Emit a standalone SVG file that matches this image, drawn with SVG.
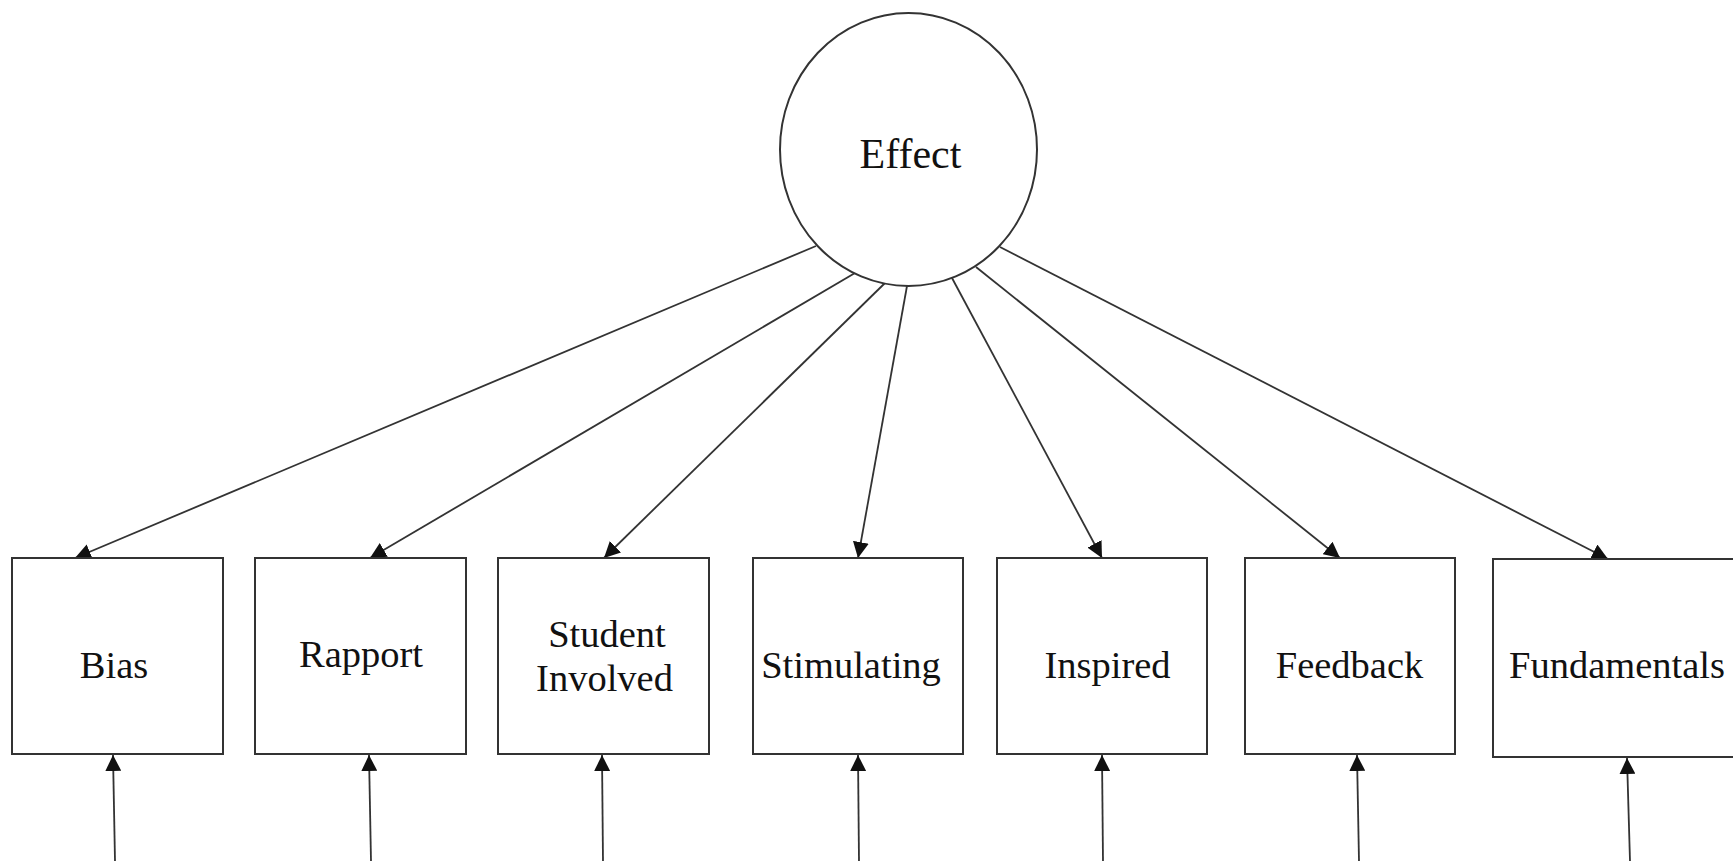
<svg xmlns="http://www.w3.org/2000/svg" width="1733" height="861" viewBox="0 0 1733 861">
<style>
.box{fill:#fff;stroke:#333;stroke-width:2}
.lbl{font-family:"Liberation Serif","Times New Roman",serif;font-size:38.5px;fill:#111;text-anchor:middle}
.conn{stroke:#333;stroke-width:1.8;fill:none;marker-end:url(#ah)}
</style>
<defs>
<marker id="ah" markerUnits="userSpaceOnUse" markerWidth="16" markerHeight="16" viewBox="0 0 16 16" refX="16" refY="8" orient="auto">
<path d="M0,0 L16,8 L0,16 Z" fill="#111"/>
</marker>
</defs>
<rect width="1733" height="861" fill="#fff"/>
<g id="connectors">
<line class="conn" x1="816" y1="246" x2="75" y2="558"/>
<line class="conn" x1="855" y1="273" x2="370" y2="558"/>
<line class="conn" x1="885" y1="283" x2="604" y2="558"/>
<line class="conn" x1="907" y1="286" x2="858" y2="558"/>
<line class="conn" x1="952" y1="278" x2="1102" y2="558"/>
<line class="conn" x1="976" y1="267" x2="1340" y2="558"/>
<line class="conn" x1="1000" y1="247" x2="1608" y2="559"/>
<line class="conn" x1="115" y1="861" x2="113" y2="755"/>
<line class="conn" x1="371" y1="861" x2="369" y2="755"/>
<line class="conn" x1="603" y1="861" x2="602" y2="755"/>
<line class="conn" x1="859" y1="861" x2="858" y2="755"/>
<line class="conn" x1="1103" y1="861" x2="1102" y2="755"/>
<line class="conn" x1="1359" y1="861" x2="1357" y2="755"/>
<line class="conn" x1="1630" y1="861" x2="1627" y2="758"/>
</g>
<g id="effect">
<ellipse cx="908.5" cy="149.5" rx="128.5" ry="136.5" class="box"/>
<text x="910.5" y="168" class="lbl" style="font-size:42px">Effect</text>
</g>
<g id="bias">
<rect x="12" y="558" width="211" height="196" class="box"/>
<text x="114" y="678" class="lbl">Bias</text>
</g>
<g id="rapport">
<rect x="255" y="558" width="211" height="196" class="box"/>
<text x="361" y="667" class="lbl">Rapport</text>
</g>
<g id="student">
<rect x="498" y="558" width="211" height="196" class="box"/>
<text x="607" y="647" class="lbl">Student</text>
<text x="604.5" y="691" class="lbl">Involved</text>
</g>
<g id="stimulating">
<rect x="753" y="558" width="210" height="196" class="box"/>
<text x="851" y="678" class="lbl">Stimulating</text>
</g>
<g id="inspired">
<rect x="997" y="558" width="210" height="196" class="box"/>
<text x="1107.5" y="678" class="lbl">Inspired</text>
</g>
<g id="feedback">
<rect x="1245" y="558" width="210" height="196" class="box"/>
<text x="1349.5" y="678" class="lbl">Feedback</text>
</g>
<g id="fundamentals">
<rect x="1493" y="559" width="260" height="198" class="box"/>
<text x="1617" y="678" class="lbl">Fundamentals</text>
</g>
</svg>
